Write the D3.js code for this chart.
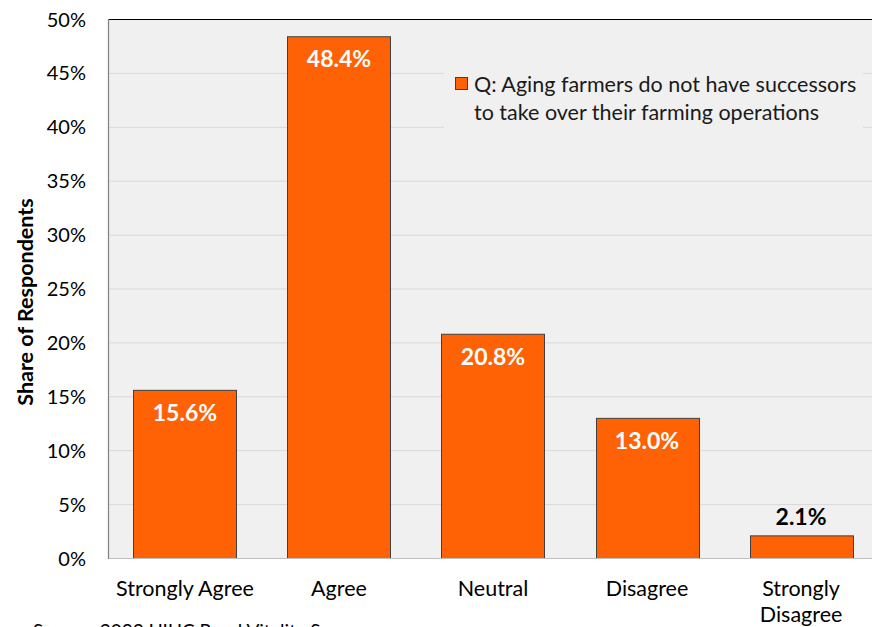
<!DOCTYPE html>
<html>
<head>
<meta charset="utf-8">
<script src="https://cdn.jsdelivr.net/npm/d3@7"></script>
<style>
  html, body { margin: 0; padding: 0; background: #ffffff; }
  svg { display: block; font-family: Lato, "Open Sans", sans-serif; }
</style>
</head>
<body>
<svg id="chart" width="872" height="627"></svg>
<script>
const categories = ["Strongly Agree", "Agree", "Neutral", "Disagree", "Strongly Disagree"];
const values = [15.6, 48.4, 20.8, 13.0, 2.1];
const yTicks = [0, 5, 10, 15, 20, 25, 30, 35, 40, 45, 50];
const legendLines = ["Q: Aging farmers do not have successors", "to take over their farming operations"];
const yTitle = "Share of Respondents";
const sourceText = "Source: 2023 UIUC Rural Vitality Survey";

(function () {
const svg = d3.select("#chart");
const pLeft = 108, pRight = 878, pTop = 19, pBottom = 558;

const x = d3.scaleBand().domain(categories).range([pLeft, pRight]).paddingInner(0.331).paddingOuter(0.165);
const y = d3.scaleLinear().domain([0, 50]).range([pBottom, pTop]);

// plot background
svg.append("rect").attr("x", pLeft).attr("y", pTop).attr("width", pRight - pLeft).attr("height", pBottom - pTop).attr("fill", "#f0f0f0");

// gridlines
svg.append("g").selectAll("line").data(yTicks.filter(d => d > 0 && d < 50)).join("line")
  .attr("x1", pLeft).attr("x2", pRight).attr("y1", d => y(d) + 0.5).attr("y2", d => y(d) + 0.5)
  .attr("stroke", "#d9d9d9").attr("stroke-width", 1);

// legend box (covers gridlines)
svg.append("rect").attr("x", 444).attr("y", 63).attr("width", 419).attr("height", 67).attr("fill", "#f0f0f0");

// bars
svg.append("g").selectAll("rect").data(values).join("rect")
  .attr("x", (d, i) => Math.round(x(categories[i])) + 0.5)
  .attr("y", d => y(d) + 0.5)
  .attr("width", Math.round(x.bandwidth()))
  .attr("height", d => pBottom - y(d))
  .attr("fill", "#ff6205").attr("stroke", "#404040").attr("stroke-width", 1);

// bar labels
svg.append("g").selectAll("text").data(values).join("text")
  .attr("x", (d, i) => x(categories[i]) + x.bandwidth() / 2)
  .attr("y", d => d > 5 ? y(d) + 31 : y(d) - 10)
  .attr("text-anchor", "middle")
  .attr("font-size", 23).attr("font-weight", "bold")
  .attr("fill", d => d > 5 ? "#ffffff" : "#000000")
  .text(d => d.toFixed(1) + "%");

// frame lines
svg.append("line").attr("x1", pLeft).attr("x2", 872).attr("y1", pTop + 0.5).attr("y2", pTop + 0.5).attr("stroke", "#000").attr("stroke-width", 1.2);
svg.append("line").attr("x1", pLeft).attr("x2", 872).attr("y1", pBottom + 0.5).attr("y2", pBottom + 0.5).attr("stroke", "#bfbfbf").attr("stroke-width", 1);
svg.append("line").attr("x1", pLeft + 0.5).attr("x2", pLeft + 0.5).attr("y1", pTop).attr("y2", pBottom + 1).attr("stroke", "#7f7f7f").attr("stroke-width", 1.2);

// y axis
const yAxis = d3.axisLeft(y).tickValues(yTicks).tickSize(0).tickPadding(0).tickFormat(d => d + "%");
const gy = svg.append("g").attr("transform", `translate(${pLeft - 22},0)`).call(yAxis);
gy.select(".domain").remove();
gy.selectAll("text").attr("font-size", 20).attr("fill", "#000").attr("font-family", "Lato, sans-serif").attr("dy", "0.35em");

// x axis
const xAxis = d3.axisBottom(x).tickSize(0).tickPadding(0);
const gx = svg.append("g").attr("transform", `translate(0,${pBottom})`).call(xAxis);
gx.select(".domain").remove();
gx.selectAll("text").each(function(d) {
  const t = d3.select(this);
  t.text(null).attr("font-size", 21.5).attr("fill", "#000").attr("font-family", "Lato, sans-serif").attr("y", 0).attr("dy", null);
  const parts = d === "Strongly Disagree" ? ["Strongly", "Disagree"] : [d];
  parts.forEach((p, i) => t.append("tspan").attr("x", 0).attr("y", 38 + i * 26).text(p));
});

// y title
svg.append("text").attr("transform", "translate(33,302) rotate(-90)")
  .attr("text-anchor", "middle").attr("font-size", 21.5).attr("font-weight", "bold").text(yTitle);

// legend
svg.append("rect").attr("x", 455.5).attr("y", 77.5).attr("width", 12).attr("height", 12)
  .attr("fill", "#ff6205").attr("stroke", "#404040").attr("stroke-width", 1);
svg.append("g").selectAll("text").data(legendLines).join("text")
  .attr("x", 474).attr("y", (d, i) => 92 + i * 28)
  .attr("font-size", 21.5).attr("fill", "#1a1a1a").text(d => d);

// source
svg.append("text").attr("x", 33).attr("y", 638).attr("font-size", 19).attr("fill", "#000").text(sourceText);
})();
</script>
</body>
</html>
